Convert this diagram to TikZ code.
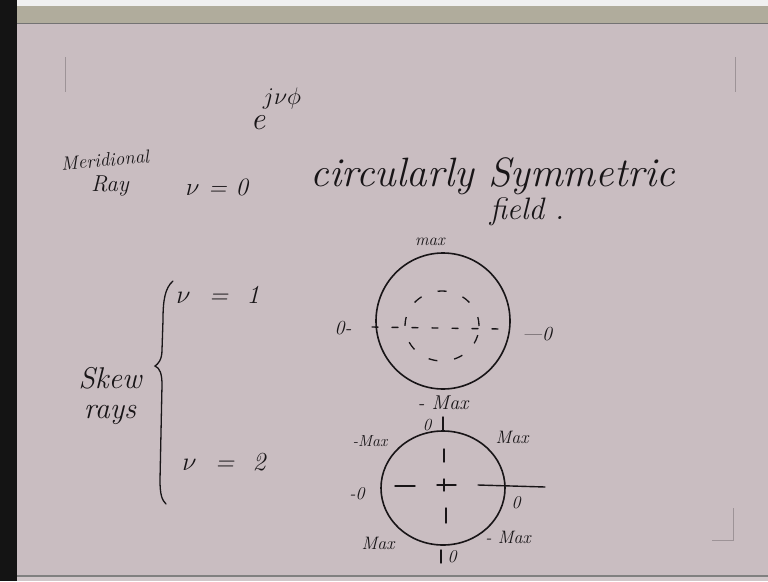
\RequirePackage{fix-cm}
\documentclass[tikz,border=0pt]{standalone}
\usepackage{fontspec}
\usetikzlibrary{positioning}

\definecolor{slide}{RGB}{201,189,193}
\definecolor{band}{RGB}{176,172,156}
\definecolor{ink}{RGB}{24,21,23}

\begin{document}
\begin{tikzpicture}[
    x=1pt, y=-1pt,
    hand/.style={text=ink, inner sep=0pt, font=\itshape\fontsize{#1}{#1}\selectfont},
    hand/.default=24,
    ring/.style={draw=ink, line width=1.6pt},
    dashring/.style={draw=ink, line width=1.3pt, dash pattern=on 9pt off 17pt},
    stroke/.style={draw=ink, line width=1.4pt, line cap=round},
    faint/.style={draw=slide!78!black, line width=1pt}
]
    \useasboundingbox (0,0) rectangle (768,581);

    % slide background
    \fill[slide] (0,0) rectangle (768,581);
    \fill[band] (17,6) rectangle (768,23);
    \draw[black!55, line width=1pt] (17,23) -- (768,23);
    \fill[white!88!gray] (0,0) rectangle (768,6);
    \draw[black!50, line width=1.5pt] (17,576) -- (768,576);
    \fill[slide!85!white] (17,577) rectangle (768,581);
    \fill[black!92] (0,0) rectangle (17,581);
    \draw[faint] (65,57) -- (65,92);
    \draw[faint] (735,57) -- (735,92);
    \draw[faint] (733,508) -- (733,540) -- (712,540);

    % heading
    \node[hand=32] (e) at (258,123) {e};
    \node[hand=24] (expo) at (282,98) {$j\nu\phi$};
    \node[hand=19, rotate=5] (merid) at (105,160) {Meridional};
    \node[hand=23] (ray) at (110,186) {Ray};
    \node[hand=25] (nuzero) at (217,187) {$\nu$ = 0};
    \node[hand=41] (circ) at (493,176) {circularly Symmetric};
    \node[hand=31] (field) at (527,212) {field .};

    % nu = 1 pattern
    \node[hand=17] (maxone) at (430,242) {max};
    \draw[ring] (443,321) ellipse [x radius=67pt, y radius=68pt];
    \draw[dashring] (442,326) ellipse [x radius=37pt, y radius=35pt];
    \draw[stroke, dash pattern=on 6pt off 14pt] (372,327) -- (500,329);
    \node[hand=20] (zeroleft) at (343,328) {0-};
    \node[hand=20] (zeroright) at (537,334) {---0};
    \node[hand=20] (minmaxone) at (443,403) {- Max};

    % nu = 2 pattern
    \draw[ring] (443,488) ellipse [x radius=62pt, y radius=57pt];
    \node[hand=17] (ztop) at (427,425) {0};
    \draw[stroke] (443,417) -- (443,431);
    \node[hand=16] (minmaxul) at (370,441) {-Max};
    \node[hand=18] (maxur) at (512,437) {Max};
    \node[hand=18] (zleft) at (357,494) {-0};
    \node[hand=18] (zright) at (516,503) {0};
    \draw[stroke] (395,486) -- (415,486);
    \draw[stroke] (437,485) -- (456,485);
    \draw[stroke] (444,479) -- (444,491);
    \draw[stroke] (478,485) -- (545,487);
    \draw[stroke] (444,449) -- (444,462);
    \draw[stroke] (446,508) -- (446,523);
    \node[hand=18] (maxll) at (378,543) {Max};
    \node[hand=18] (minmaxlr) at (508,537) {- Max};
    \draw[stroke] (441,550) -- (441,563);
    \node[hand=18] (zbot) at (452,557) {0};

    % skew rays
    \node[hand=26] (nuone) at (218,295) {$\nu$\ \ =\ \ 1};
    \node[hand=30] (skew) at (110,378) {Skew};
    \node[hand=30, below=16pt of skew] (rays) {rays};
    \node[hand=26] (nutwo) at (224,462) {$\nu$\ \ =\ \ 2};
    \draw[stroke, line width=1.3pt] (173,281) .. controls (165,288) and (163,300) .. (163,320)
        -- (162,350) .. controls (162,360) and (158,364) .. (155,366)
        .. controls (160,368) and (162,374) .. (162,385)
        -- (160,480) .. controls (160,495) and (162,500) .. (166,504);
\end{tikzpicture}
\end{document}
